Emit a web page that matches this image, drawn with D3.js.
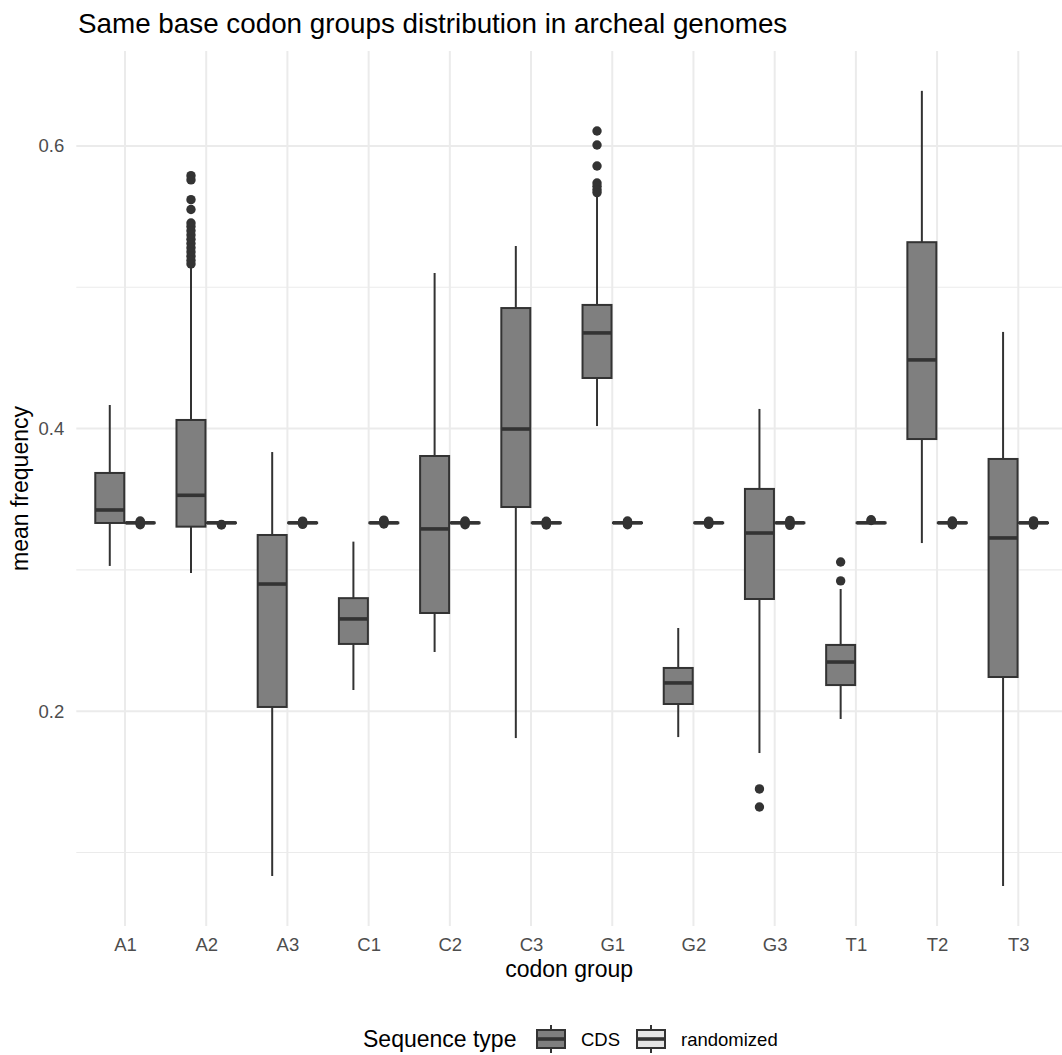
<!DOCTYPE html>
<html lang="en">
<head>
<meta charset="UTF-8">
<title>Same base codon groups distribution in archeal genomes</title>
<style>
    * {
        margin:0;
        padding:0;
        box-sizing:border-box;
    }
    body {
        background:#fff;
    }
    #chart {
        width:1062px;
        height:1055px;
    }
    text {
        font-family:"Liberation Sans", Arial, sans-serif;
    }
</style>
<script src="https://unpkg.com/d3@7.8.5/dist/d3.min.js"></script>
<script>
    const groups=["A1","A2","A3","C1","C2","C3","G1","G2","G3","T1","T2","T3"];
    const seqTypes=["CDS","randomized"];

    // CDS boxes
    const cdsLow   =[0.3028,0.2978,0.0834,0.2150,0.2419,0.1810,0.4018,0.1817,0.1704,0.1945,0.3190,0.0763];
    const cdsQ1    =[0.3332,0.3306,0.2030,0.2476,0.2695,0.3445,0.4358,0.2051,0.2794,0.2185,0.3926,0.2242];
    const cdsMedian=[0.3424,0.3528,0.2900,0.2653,0.3290,0.3997,0.4677,0.2200,0.3261,0.2348,0.4486,0.3226];
    const cdsQ3    =[0.3686,0.4061,0.3247,0.2800,0.3806,0.4853,0.4875,0.2306,0.3573,0.2469,0.5319,0.3785];
    const cdsHigh  =[0.4167,0.5158,0.3834,0.3200,0.5101,0.5292,0.5640,0.2589,0.4139,0.2865,0.6390,0.4684];
    const cdsOutliers=[
        [],
        [0.579,0.576,0.562,0.555,0.5455,0.543,0.540,0.537,0.534,0.531,0.528,0.525,0.522,0.519,0.5165],
        [],
        [],
        [],
        [],
        [0.6106,0.6007,0.5858,0.5738,0.5715,0.569,0.567],
        [],
        [0.1450,0.1322],
        [0.3056,0.2922],
        [],
        []
    ];

    // randomized boxes, all squeezed round 1/3
    const rndLow   =[0.3328,0.3328,0.3328,0.3328,0.3328,0.3328,0.3328,0.3328,0.3328,0.3328,0.3328,0.3328];
    const rndQ1    =[0.3331,0.3331,0.3331,0.3331,0.3331,0.3331,0.3331,0.3331,0.3331,0.3331,0.3331,0.3331];
    const rndMedian=[0.3333,0.3333,0.3333,0.3333,0.3333,0.3333,0.3333,0.3333,0.3333,0.3333,0.3333,0.3333];
    const rndQ3    =[0.3335,0.3335,0.3335,0.3335,0.3335,0.3335,0.3335,0.3335,0.3335,0.3335,0.3335,0.3335];
    const rndHigh  =[0.3338,0.3338,0.3338,0.3338,0.3338,0.3338,0.3338,0.3338,0.3338,0.3338,0.3338,0.3338];
    const rndOutliers=[
        [0.3320,0.3326,0.3340,0.3346],
        [0.3318,0.3322],
        [0.3322,0.3328,0.3340,0.3345],
        [0.3325,0.3342,0.3348,0.3352],
        [0.3320,0.3326,0.3341,0.3346],
        [0.3318,0.3324,0.3340,0.3344],
        [0.3320,0.3326,0.3340,0.3346],
        [0.3322,0.3327,0.3340,0.3345],
        [0.3315,0.3322,0.3343,0.3350],
        [0.3350,0.3355],
        [0.3320,0.3326,0.3341,0.3346],
        [0.3318,0.3324,0.3342,0.3347]
    ];

    const yTicks=[0.2,0.4,0.6];
    const yMinorTicks=[0.1,0.3,0.5];
</script>
</head>
<body>
<div id="chart"></div>
<script>
    const width=1062;
    const height=1055;
    const panelLeft=76.3;
    const panelRight=1062;
    const panelTop=51;
    const panelBottom=926;

    const cdsFill="#7f7f7f";
    const rndFill="#e5e5e5";
    const lineColor="#333333";
    const gridColor="#ebebeb";

    const xScale=d3.scalePoint(groups,[125,1018.3]);
    const step=xScale.step();
    const dodge=d3.scaleBand(seqTypes,[-0.375*step,0.375*step]);
    const boxWidth=29;
    const yScale=d3.scaleLinear([0.048,0.6672],[panelBottom,panelTop]);

    const svg=d3.select("#chart").append("svg")
        .attr("width",width)
        .attr("height",height);

    // grid
    const grid=svg.append("g");
    grid.selectAll(".minor")
        .data(yMinorTicks)
        .join("line")
          .attr("x1",panelLeft).attr("x2",panelRight)
          .attr("y1",d=>yScale(d)).attr("y2",d=>yScale(d))
          .attr("stroke",gridColor).attr("stroke-width",1.2);
    grid.selectAll(".major")
        .data(yTicks)
        .join("line")
          .attr("x1",panelLeft).attr("x2",panelRight)
          .attr("y1",d=>yScale(d)).attr("y2",d=>yScale(d))
          .attr("stroke",gridColor).attr("stroke-width",2);
    grid.selectAll(".vert")
        .data(groups)
        .join("line")
          .attr("x1",d=>xScale(d)).attr("x2",d=>xScale(d))
          .attr("y1",panelTop).attr("y2",panelBottom)
          .attr("stroke",gridColor).attr("stroke-width",2);

    // axes (labels only, like theme_minimal)
    const yAxis=d3.axisLeft(yScale).tickValues(yTicks).tickSize(0).tickPadding(12).tickFormat(d3.format(".1f"));
    svg.append("g")
        .attr("transform",`translate(${panelLeft},0)`)
        .call(yAxis)
        .call(g=>g.select(".domain").remove())
        .call(g=>g.selectAll("text").attr("fill","#4d4d4d").attr("font-size",18.5).attr("font-family","Liberation Sans, Arial, sans-serif"));

    const xAxis=d3.axisBottom(xScale).tickSize(0).tickPadding(12);
    svg.append("g")
        .attr("transform",`translate(0,${panelBottom})`)
        .call(xAxis)
        .call(g=>g.select(".domain").remove())
        .call(g=>g.selectAll("text").attr("fill","#4d4d4d").attr("font-size",18.5).attr("font-family","Liberation Sans, Arial, sans-serif"));

    // boxes
    const boxes=[];
    groups.forEach((g,i)=>{
        boxes.push({group:g,type:"CDS",low:cdsLow[i],q1:cdsQ1[i],median:cdsMedian[i],q3:cdsQ3[i],high:cdsHigh[i],out:cdsOutliers[i]});
        boxes.push({group:g,type:"randomized",low:rndLow[i],q1:rndQ1[i],median:rndMedian[i],q3:rndQ3[i],high:rndHigh[i],out:rndOutliers[i]});
    });
    const cx=d=>xScale(d.group)+dodge(d.type)+dodge.bandwidth()/2;
    const fill=d=>d.type==="CDS"?cdsFill:rndFill;

    const bx=svg.append("g")
        .selectAll("g")
        .data(boxes)
        .join("g");
    bx.append("line")
        .attr("x1",cx).attr("x2",cx)
        .attr("y1",d=>yScale(d.high)).attr("y2",d=>yScale(d.q3))
        .attr("stroke",lineColor).attr("stroke-width",2);
    bx.append("line")
        .attr("x1",cx).attr("x2",cx)
        .attr("y1",d=>yScale(d.q1)).attr("y2",d=>yScale(d.low))
        .attr("stroke",lineColor).attr("stroke-width",2);
    bx.append("rect")
        .attr("x",d=>cx(d)-boxWidth/2)
        .attr("width",boxWidth)
        .attr("y",d=>yScale(d.q3))
        .attr("height",d=>yScale(d.q1)-yScale(d.q3))
        .attr("fill",fill)
        .attr("stroke",lineColor).attr("stroke-width",2);
    bx.append("line")
        .attr("x1",d=>cx(d)-boxWidth/2).attr("x2",d=>cx(d)+boxWidth/2)
        .attr("y1",d=>yScale(d.median)).attr("y2",d=>yScale(d.median))
        .attr("stroke",lineColor).attr("stroke-width",3.6);
    bx.selectAll("circle")
        .data(d=>d.out.map(v=>({x:cx(d),v:v})))
        .join("circle")
          .attr("cx",d=>d.x)
          .attr("cy",d=>yScale(d.v))
          .attr("r",4.7)
          .attr("fill",lineColor);

    // titles
    svg.append("text")
        .attr("x",78).attr("y",33)
        .attr("font-size",27.8).attr("fill","#000")
        .text("Same base codon groups distribution in archeal genomes");
    svg.append("text")
        .attr("x",(panelLeft+panelRight)/2).attr("y",977)
        .attr("text-anchor","middle")
        .attr("font-size",23).attr("fill","#000")
        .text("codon group");
    svg.append("text")
        .attr("transform",`translate(28,${(panelTop+panelBottom)/2}) rotate(-90)`)
        .attr("text-anchor","middle")
        .attr("font-size",23).attr("fill","#000")
        .text("mean frequency");

    // legend
    const legend=svg.append("g").attr("transform","translate(0,1039)");
    legend.append("text")
        .attr("x",363).attr("y",8)
        .attr("font-size",23).attr("fill","#000")
        .text("Sequence type");
    const keyX=d3.scaleOrdinal(seqTypes,[551,651]);
    const keys=legend.selectAll(".key")
        .data(seqTypes)
        .join("g")
          .attr("transform",d=>`translate(${keyX(d)},0)`);
    keys.append("line")
        .attr("y1",-14).attr("y2",14)
        .attr("stroke",lineColor).attr("stroke-width",2);
    keys.append("rect")
        .attr("x",-14).attr("y",-9).attr("width",28).attr("height",18)
        .attr("fill",d=>d==="CDS"?cdsFill:rndFill)
        .attr("stroke",lineColor).attr("stroke-width",2);
    keys.append("line")
        .attr("x1",-14).attr("x2",14)
        .attr("stroke",lineColor).attr("stroke-width",3.6);
    keys.append("text")
        .attr("x",30).attr("y",7)
        .attr("font-size",18.5).attr("fill","#000")
        .text(d=>d);
</script>
</body>
</html>
